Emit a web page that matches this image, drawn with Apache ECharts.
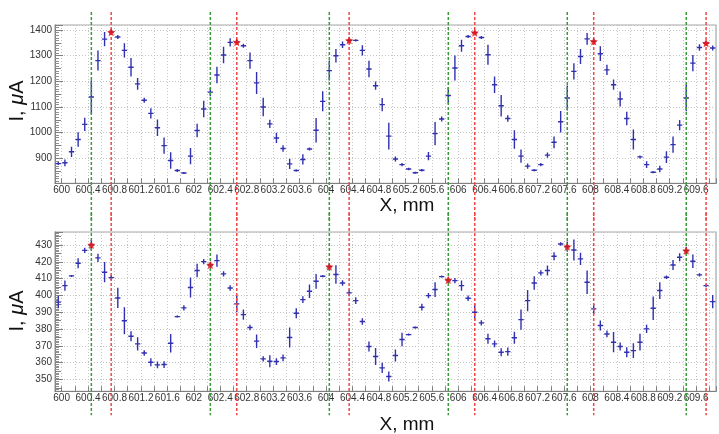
<!DOCTYPE html>
<html><head><meta charset="utf-8">
<script src="https://cdn.jsdelivr.net/npm/echarts@6/dist/echarts.min.js"></script>
<style>html,body{margin:0;padding:0;background:#fff}#c{width:719px;height:434px}</style>
</head><body><div id="c"></div>
<script>
// ---- data ----
const xPos = [599.95,600.05,600.15,600.25,600.35,600.45,600.55,600.65,600.75,600.85,
600.95,601.05,601.15,601.25,601.35,601.45,601.55,601.65,601.75,601.85,
601.95,602.05,602.15,602.25,602.35,602.45,602.55,602.65,602.75,602.85,
602.95,603.05,603.15,603.25,603.35,603.45,603.55,603.65,603.75,603.85,
603.95,604.05,604.15,604.25,604.35,604.45,604.55,604.65,604.75,604.85,
604.95,605.05,605.15,605.25,605.35,605.45,605.55,605.65,605.75,605.85,
605.95,606.05,606.15,606.25,606.35,606.45,606.55,606.65,606.75,606.85,
606.95,607.05,607.15,607.25,607.35,607.45,607.55,607.65,607.75,607.85,
607.95,608.05,608.15,608.25,608.35,608.45,608.55,608.65,608.75,608.85,
608.95,609.05,609.15,609.25,609.35,609.45,609.55,609.65,609.75,609.85];
const xErr = 0.04;

const topI = [879,882,925,973,1032,1139,1281,1365,1392,1373,
1321,1255,1190,1126,1075,1019,949,891,852,842,
908,1008,1092,1158,1225,1303,1352,1353,1339,1281,
1194,1100,1034,979,938,878,852,895,936,1009,
1122,1242,1300,1343,1360,1360,1321,1248,1183,1109,
986,897,875,858,843,853,908,996,1053,1145,
1252,1339,1375,1390,1371,1304,1187,1105,1055,973,
908,869,853,875,912,962,1042,1135,1239,1297,
1366,1356,1308,1245,1187,1131,1055,973,905,875,
845,858,904,953,1029,1135,1271,1332,1349,1330];
const topErr = [6,13,20,28,26,65,39,28,10,8,
28,36,23,10,20,32,32,32,6,4,
32,26,32,16,32,32,16,10,8,32,
43,36,16,20,13,20,4,20,6,48,
39,39,26,13,6,4,20,32,16,26,
52,10,6,5,4,5,16,45,10,32,
49,23,6,6,6,39,32,42,13,36,
26,10,4,6,10,23,42,49,32,29,
23,10,29,20,20,29,26,39,6,13,
4,13,23,32,20,52,32,13,10,10];

const botI = [396,405.8,411.6,419.1,426.8,430,422.3,413.8,410.6,398.5,
384.9,375.7,371.2,365.8,360.3,358.7,358.9,371.6,387.4,392.6,
404.7,414.8,420.1,418.1,420.7,412.8,404.4,395,388.6,380.9,
372.8,362.3,360.9,360.7,362.9,375,389.4,397.5,402.5,408.4,
411.4,417.1,412.4,407.4,401.5,396.9,384.5,369.6,363.7,356.9,
351.8,364.3,373.8,376.7,380.9,393,399.9,403.5,411.2,409.2,
408.8,405.8,398.3,390,383.7,374.2,371.2,366.2,366.6,374.8,
385.6,396.9,407.4,413.4,414.8,423.3,430.6,429,427,421.7,
407.8,392,382.1,377.1,372.2,369.6,366.2,367.2,372.2,380.1,
392.4,402.9,410.8,418.1,422.7,426.6,420.3,412.2,405.8,396.3];
const botErr = [3.6,3,0.6,3,1.6,3,2.4,6,1.6,6,
8,3,4,1.6,2.4,2,2,5.5,0.6,1.6,
6,4,1.6,1.6,3.6,1.6,1.6,5,3,1.6,
4,1.6,3.6,2,2,6,3,2,4,4.4,
0.6,2,5.5,1.6,2,2,2,3,5,3,
3,3.6,4,0.6,0.6,2,1.6,4.4,0.6,1.6,
1.6,3,1.6,5,1.6,3,2,2.4,2.4,3.6,
6,6.3,4,1.6,3,2.4,1,3,6.3,3.6,
7,3,3,2,6,2.4,3,4.4,5,2.4,
7,5,1,3,2.4,2.4,4,1,1,4];

const greenX = [600.45,602.25,604.05,605.85,607.65,609.45];
const redX = [600.75,602.65,604.35,606.25,608.05,609.75];
const topPeakI = [1392,1353,1360,1390,1356,1349];   // at redX
const botPeakI = [430,418.1,417.1,409.2,429,426.6]; // at greenX

const xLabels = [600,600.4,600.8,601.2,601.6,602,602.4,602.8,603.2,603.6,604,604.4,604.8,605.2,605.6,606,606.4,606.8,607.2,607.6,608,608.4,608.8,609.2,609.6];
const topYLabels = [900,1000,1100,1200,1300,1400];
const botYLabels = [350,360,370,380,390,400,410,420,430];

// ---- chart ----
const FONT = 'Liberation Sans, Arial, sans-serif';
const chart = echarts.init(document.getElementById('c'), null, {renderer:'canvas'});

function pick(list){ return v => { const l = list.find(a => Math.abs(a - v) < 1e-6); return l === undefined ? '' : String(l); }; }

const gridLine = {show:true, lineStyle:{color:'#c4c4c4', type:[1,2], width:1}};
function xAx(g){ return {type:'value', gridIndex:g, min:599.9, max:609.9, minInterval:0.2, maxInterval:0.2,
  axisLine:{show:true, onZero:false, lineStyle:{color:'#808080', width:1}},
  axisTick:{show:true, inside:true, length:5, lineStyle:{color:'#808080'}},
  minorTick:{show:false},
  splitLine:gridLine,
  axisLabel:{formatter:pick(xLabels), color:'#333', fontSize:10, fontFamily:FONT, margin:2, showMinLabel:true, showMaxLabel:true}}; }
function yAx(g, mn, mx, iv, labels, main){ return {type:'value', gridIndex:g, position:'left', min:mn, max:mx, minInterval:iv, maxInterval:iv,
  axisLine:{show:main, onZero:false, lineStyle:{color:'#808080', width:1}},
  axisTick:{show:true, inside:true, length: main ? 8 : 6, lineStyle:{color:'#808080'}},
  minorTick: main ? {show:true, splitNumber:10, length:4, lineStyle:{color:'#909090'}} : {show:false},
  splitLine: main ? gridLine : {show:false},
  axisLabel: main ? {formatter:pick(labels), color:'#333', fontSize:10, fontFamily:FONT, margin:3} : {show:false}}; }

function crossRender(params, api){
  const x = api.value(0), y = api.value(1), e = api.value(2);
  const pL = api.coord([x - xErr, y]), pR = api.coord([x + xErr, y]);
  const pT = api.coord([x, y + e]), pB = api.coord([x, y - e]);
  const style = {stroke:'#3030b0', lineWidth:1.4};
  return {type:'group', children:[
    {type:'line', shape:{x1:pL[0], y1:pL[1], x2:pR[0], y2:pR[1]}, style},
    {type:'line', shape:{x1:pT[0], y1:pT[1], x2:pB[0], y2:pB[1]}, style}
  ]};
}
function vlineRender(above, below, color){ return function(params, api){
  const cs = params.coordSys;
  const x = api.coord([api.value(0), api.value(1)])[0];
  return {type:'line', shape:{x1:x, y1:cs.y - above, x2:x, y2:cs.y + cs.height + below},
    style:{stroke:color, lineWidth:1.5, lineDash:[3,2]}};
}; }
const GREEN = '#3a9a3a', RED = '#f04848';
const star = 'path://M0,-10 L2.9,-4 L9.5,-3.1 L4.7,1.5 L5.9,8.1 L0,5 L-5.9,8.1 L-4.7,1.5 L-9.5,-3.1 L-2.9,-4 Z';

const option = {
  animation:false,
  backgroundColor:'#fff',
  grid:[
    {left:55, top:25, width:665, height:158.3, show:true, borderColor:'#a8a8a8', borderWidth:1.2, backgroundColor:'transparent'},
    {left:55, top:232, width:665, height:159.3, show:true, borderColor:'#a8a8a8', borderWidth:1.2, backgroundColor:'transparent'}
  ],
  xAxis:[xAx(0), xAx(1)],
  yAxis:[
    yAx(0, 802, 1420, 100, topYLabels, true),
    yAx(0, 802, 1420, 50, topYLabels, false),
    yAx(1, 343, 437.7, 10, botYLabels, true),
    yAx(1, 343, 437.7, 5, botYLabels, false)
  ],
  series:[
    {type:'custom', xAxisIndex:0, yAxisIndex:0, clip:true, renderItem:crossRender,
      data: xPos.map((x,i)=>[x, topI[i], topErr[i]]), z:3},
    {type:'custom', xAxisIndex:1, yAxisIndex:2, clip:true, renderItem:crossRender,
      data: xPos.map((x,i)=>[x, botI[i], botErr[i]]), z:3},
    {type:'custom', xAxisIndex:0, yAxisIndex:0, clip:false, renderItem:vlineRender(13, 37, GREEN),
      data: greenX.map(x=>[x, topYLabels[0]]), z:4},
    {type:'custom', xAxisIndex:0, yAxisIndex:0, clip:false, renderItem:vlineRender(13, 37, RED),
      data: redX.map(x=>[x, topYLabels[0]]), z:4},
    {type:'custom', xAxisIndex:1, yAxisIndex:2, clip:false, renderItem:vlineRender(19, 24, GREEN),
      data: greenX.map(x=>[x, botYLabels[0]]), z:4},
    {type:'custom', xAxisIndex:1, yAxisIndex:2, clip:false, renderItem:vlineRender(19, 24, RED),
      data: redX.map(x=>[x, botYLabels[0]]), z:4},
    {type:'scatter', xAxisIndex:0, yAxisIndex:0, symbol:star, symbolSize:8, itemStyle:{color:'#e81010'},
      data: redX.map((x,i)=>[x, topPeakI[i]]), z:5},
    {type:'scatter', xAxisIndex:1, yAxisIndex:2, symbol:star, symbolSize:8, itemStyle:{color:'#e81010'},
      data: greenX.map((x,i)=>[x, botPeakI[i]]), z:5}
  ],
  graphic:[
    {type:'text', x:17, y:101, rotation:Math.PI/2, style:{text:'I, {m|μ}A', font:'20px '+FONT, fill:'#111', align:'center', verticalAlign:'middle', rich:{m:{fontStyle:'italic', fontSize:20, fontFamily:FONT, fill:'#111'}}}},
    {type:'text', x:17, y:311, rotation:Math.PI/2, style:{text:'I, {m|μ}A', font:'20px '+FONT, fill:'#111', align:'center', verticalAlign:'middle', rich:{m:{fontStyle:'italic', fontSize:20, fontFamily:FONT, fill:'#111'}}}},
    {type:'text', x:407, y:206, style:{text:'X, mm', font:'19px '+FONT, fill:'#111', align:'center', verticalAlign:'middle'}},
    {type:'text', x:407, y:425, style:{text:'X, mm', font:'19px '+FONT, fill:'#111', align:'center', verticalAlign:'middle'}}
  ]
};
chart.setOption(option);
</script>
</body></html>
